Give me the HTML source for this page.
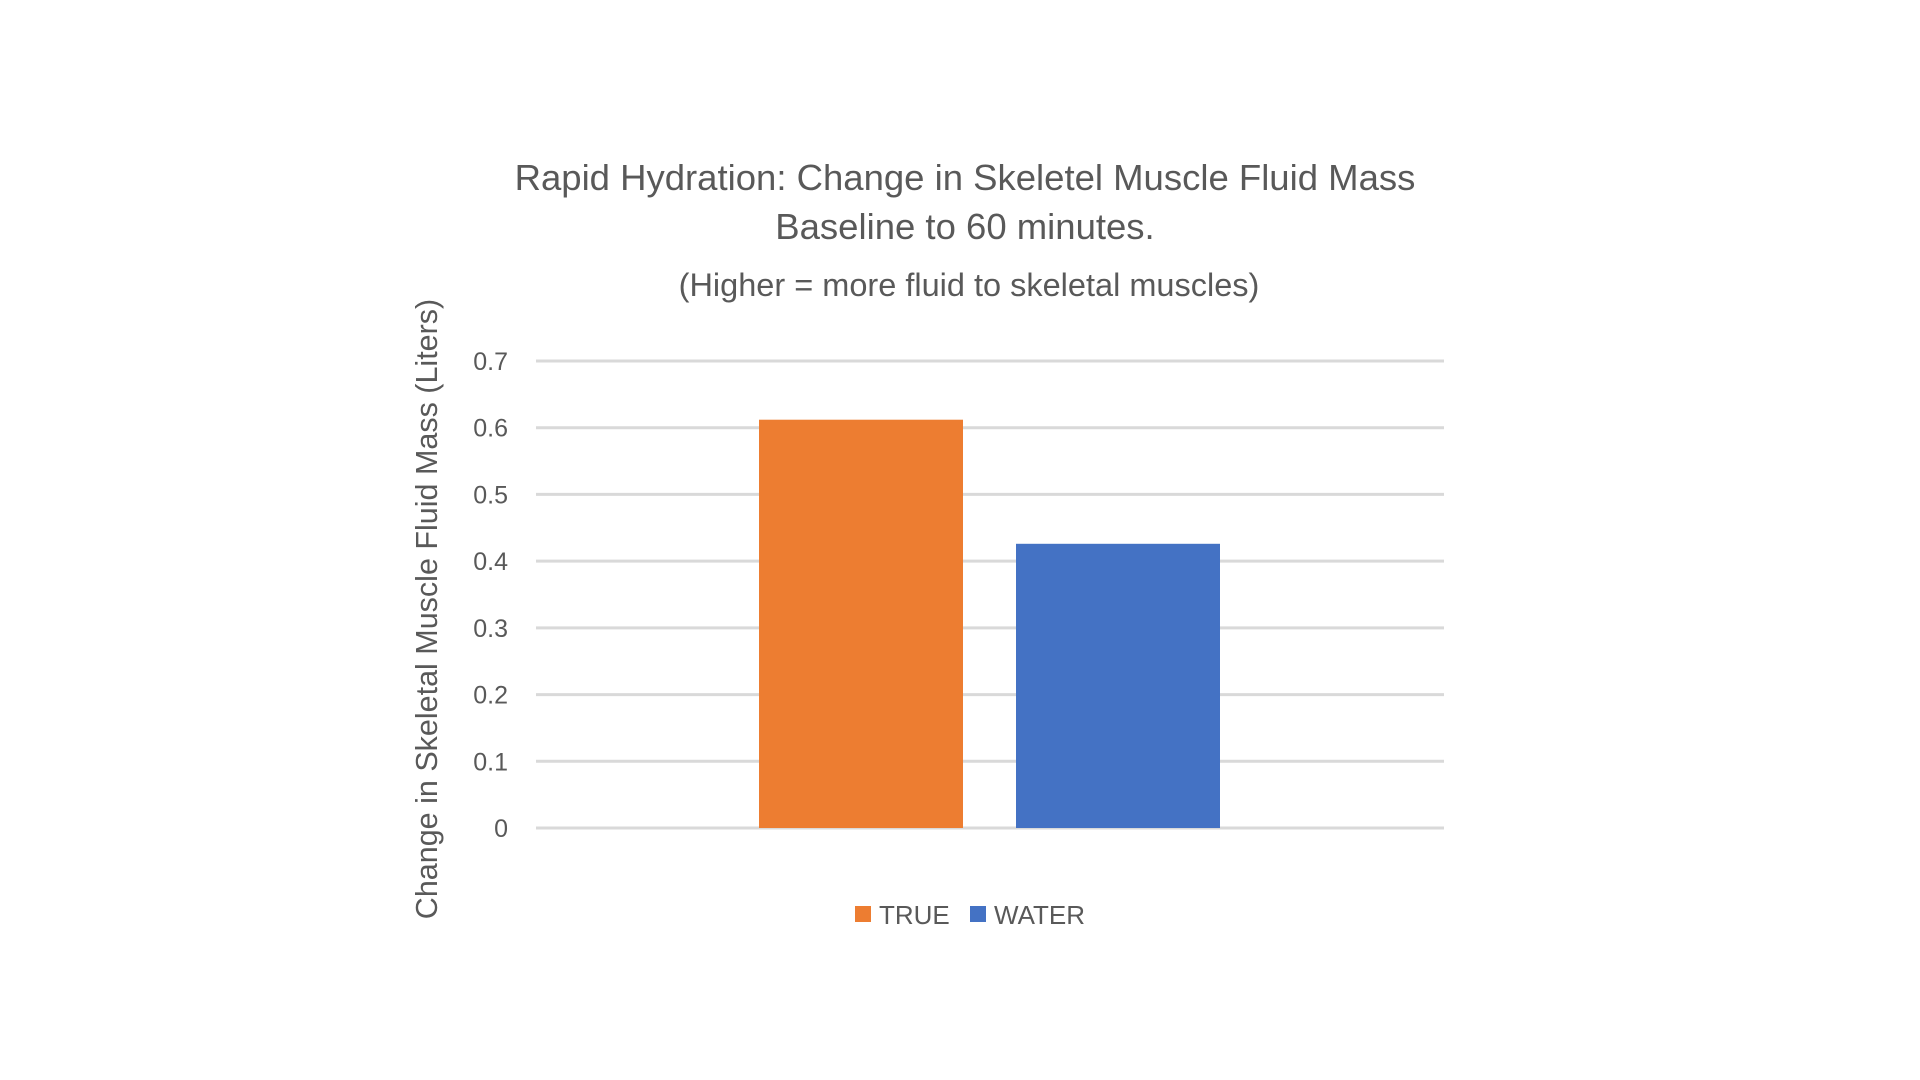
<!DOCTYPE html>
<html><head><meta charset="utf-8"><style>
html,body{margin:0;padding:0;background:#fff;}
svg{display:block;font-family:"Liberation Sans",sans-serif;}
</style></head><body>
<svg id="chart" width="1920" height="1080" viewBox="0 0 1920 1080">
<text x="965" y="190" text-anchor="middle" font-size="36.5" fill="#595959">Rapid Hydration: Change in Skeletel Muscle Fluid Mass</text>
<text x="965" y="239" text-anchor="middle" font-size="36.5" fill="#595959">Baseline to 60 minutes.</text>
<text x="969" y="296" text-anchor="middle" font-size="32.5" fill="#595959">(Higher = more fluid to skeletal muscles)</text>
<text transform="translate(437,609) rotate(-90)" text-anchor="middle" font-size="30.5" fill="#595959">Change in Skeletal Muscle Fluid Mass (Liters)</text>
<g id="grid"></g><g id="bars"></g>
<g>
<rect x="855" y="906" width="16" height="16" fill="#ed7d31"/>
<text x="879" y="924" font-size="26" fill="#595959">TRUE</text>
<rect x="970" y="906" width="16" height="16" fill="#4472c4"/>
<text x="994" y="924" font-size="26" fill="#595959">WATER</text>
</g>
</svg>
<script>
const categories = ["TRUE","WATER"];
const values = [0.612, 0.426];
const colors = ["#ed7d31","#4472c4"];
const ticks = [0,0.1,0.2,0.3,0.4,0.5,0.6,0.7];
const ns="http://www.w3.org/2000/svg";
const y0=828, y1=361, vmax=0.7;
const yScale=v=>y0-(v/vmax)*(y0-y1);
const barX=[759,1016], barW=204;
const grid=document.getElementById('grid');
ticks.forEach(t=>{
  const l=document.createElementNS(ns,'line');
  l.setAttribute('x1',536);l.setAttribute('x2',1444);
  l.setAttribute('y1',yScale(t));l.setAttribute('y2',yScale(t));
  l.setAttribute('stroke','#d9d9d9');l.setAttribute('stroke-width',3);
  
  
  grid.appendChild(l);
  const tx=document.createElementNS(ns,'text');
  tx.setAttribute('x',508);tx.setAttribute('y',yScale(t)+9);
  tx.setAttribute('text-anchor','end');tx.setAttribute('font-size','25');tx.setAttribute('fill','#595959');
  tx.textContent=String(t);
  
  
  grid.appendChild(tx);
});
const bars=document.getElementById('bars');
categories.forEach((c,i)=>{
  const r=document.createElementNS(ns,'rect');
  r.setAttribute('x',barX[i]);r.setAttribute('width',barW);
  r.setAttribute('y',yScale(values[i]));r.setAttribute('height',y0-yScale(values[i]));
  r.setAttribute('fill',colors[i]);
  
  
  bars.appendChild(r);
});
</script>
</body></html>
